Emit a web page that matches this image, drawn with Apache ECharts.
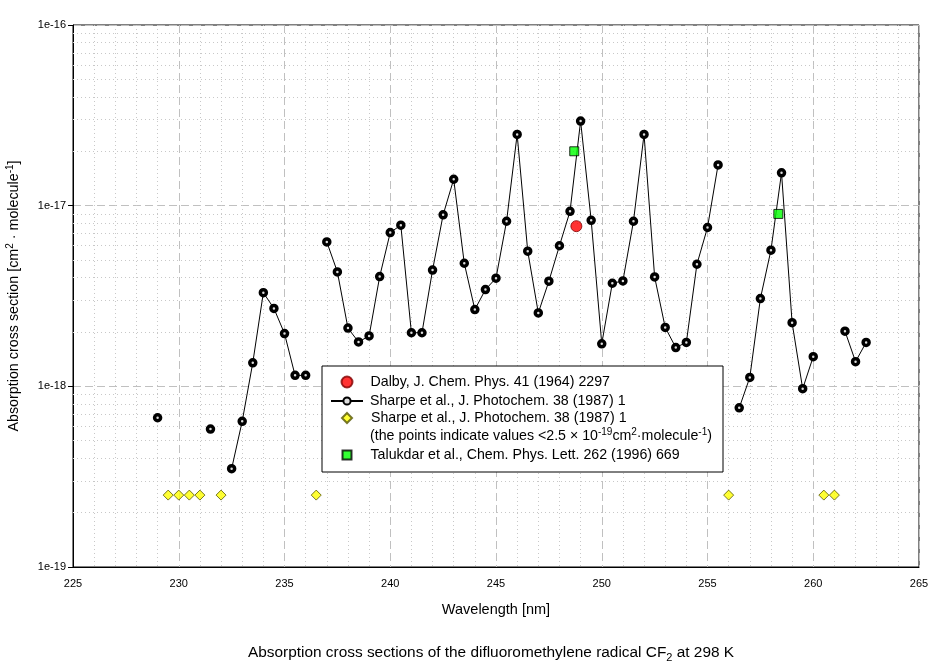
<!DOCTYPE html>
<html>
<head>
<meta charset="utf-8">
<script src="https://cdn.jsdelivr.net/npm/echarts@6/dist/echarts.min.js"></script>
<style>
  html, body { margin: 0; padding: 0; background: #fff; }
  #chart { width: 944px; height: 668px; }
</style>
</head>
<body>
<div id="chart"></div>
<script>
// wavelengths [nm] and cross sections [cm2 molecule-1]
// null = below 2.5e-19 (shown as yellow diamonds instead)
const sharpeWavelength = [
  229, 229.5, 230, 230.5, 231, 231.5, 232, 232.5, 233, 233.5, 234, 234.5, 235, 235.5, 236, 236.5,
  237, 237.5, 238, 238.5, 239, 239.5, 240, 240.5, 241, 241.5, 242, 242.5, 243, 243.5, 244, 244.5,
  245, 245.5, 246, 246.5, 247, 247.5, 248, 248.5, 249, 249.5, 250, 250.5, 251, 251.5, 252, 252.5,
  253, 253.5, 254, 254.5, 255, 255.5, 256, 256.5, 257, 257.5, 258, 258.5, 259, 259.5, 260, 260.5,
  261, 261.5, 262, 262.5
]
const sharpeSigma = [
  6.7e-19, null, null, null, null, 5.8e-19, null, 3.5e-19, 6.4e-19, 1.35e-18, 3.3e-18, 2.7e-18, 1.96e-18, 1.15e-18, 1.15e-18, null,
  6.3e-18, 4.3e-18, 2.1e-18, 1.76e-18, 1.9e-18, 4.05e-18, 7.1e-18, 7.8e-18, 1.98e-18, 1.98e-18, 4.4e-18, 8.9e-18, 1.4e-17, 4.8e-18, 2.66e-18, 3.43e-18,
  3.97e-18, 8.2e-18, 2.48e-17, 5.6e-18, 2.55e-18, 3.82e-18, 6.0e-18, 9.3e-18, 2.94e-17, 8.3e-18, 1.72e-18, 3.72e-18, 3.83e-18, 8.2e-18, 2.48e-17, 4.03e-18,
  2.12e-18, 1.64e-18, 1.75e-18, 4.74e-18, 7.57e-18, 1.68e-17, null, 7.6e-19, 1.12e-18, 3.06e-18, 5.67e-18, 1.52e-17, 2.25e-18, 9.7e-19, 1.46e-18, null,
  null, 2.02e-18, 1.37e-18, 1.75e-18
]
const sharpeLowWavelength = [229.5, 230, 230.5, 231, 232, 236.5, 256, 260.5, 261]
const sharpeLowSigma = [2.5e-19, 2.5e-19, 2.5e-19, 2.5e-19, 2.5e-19, 2.5e-19, 2.5e-19, 2.5e-19, 2.5e-19]
const dalbyWavelength = [248.8]
const dalbySigma = [7.7e-18]
const talukdarWavelength = [248.7, 258.35]
const talukdarSigma = [2.0e-17, 9.0e-18]

const yTickLabels = ['1e-19', '1e-18', '1e-17', '1e-16']
const minorMantissa = [2, 3, 4, 5, 6, 7, 8, 9]

// the log axis is drawn in units of 1e-19 so its tick rounding stays exact
const UNIT = 1e-19
const pairs = (xs, ys) => xs.map((x, i) => ys[i] == null ? [x, null] : [x, ys[i] / UNIT])

const minorLines = []
for (let d = 0; d < 3; d++) {
  minorMantissa.forEach(m => minorLines.push({ yAxis: m * Math.pow(10, d) }))
}

const FONT = 'Arial, "Liberation Sans", sans-serif'
const NAME_SHARPE = 'Sharpe et al., J. Photochem. 38 (1987) 1'
const NAME_LOW = 'Sharpe low'
const NAME_DALBY = 'Dalby, J. Chem. Phys. 41 (1964) 2297'
const NAME_TALUKDAR = 'Talukdar et al., Chem. Phys. Lett. 262 (1996) 669'

// one legend per row so each icon keeps its own size
function legendRow(name, top, size, width, shift, extra) {
  return Object.assign({
    orient: 'vertical',
    left: 346 - width / 2,
    top: top,
    padding: 0,
    itemWidth: width,
    itemHeight: size,
    selectedMode: false,
    z: 12,
    data: [name],
    textStyle: { fontFamily: FONT, fontSize: 14.2, color: '#000', padding: [0, 0, 0, shift] }
  }, extra || {})
}

const myChart = echarts.init(document.getElementById('chart'))
const option = {
  animation: false,
  backgroundColor: '#fff',
  textStyle: { fontFamily: FONT },
  grid: {
    left: 73, right: 25, top: 25, bottom: 101,
    outerBoundsMode: 'none',
    containLabel: false,
    show: true, borderColor: '#000', borderWidth: 1
  },
  title: {
    text: 'Absorption cross sections of the difluoromethylene radical CF{sub|2} at 298 K',
    left: 243, top: 638,
    textStyle: {
      fontFamily: FONT, fontSize: 15.4, fontWeight: 'normal', color: '#000', lineHeight: 20,
      rich: {
        sub: { fontFamily: FONT, fontSize: 11, verticalAlign: 'bottom', lineHeight: 20, color: '#000' }
      }
    }
  },
  xAxis: {
    type: 'value',
    min: 225, max: 265, interval: 5,
    name: 'Wavelength [nm]',
    nameLocation: 'middle',
    nameGap: 35,
    nameTextStyle: { fontFamily: FONT, fontSize: 14.5, color: '#000' },
    axisLine: { lineStyle: { color: '#000', width: 1 } },
    axisTick: { show: false },
    axisLabel: { fontFamily: FONT, fontSize: 11, color: '#000', margin: 11 },
    splitLine: { show: true, lineStyle: { color: '#c0c0c0', type: [8, 4], width: 1 } },
    minorTick: { show: false, splitNumber: 5 },
    minorSplitLine: { show: true, lineStyle: { color: '#c8c8c8', type: [1, 3], width: 1 } }
  },
  yAxis: {
    type: 'log',
    logBase: 10,
    min: 1, max: 1000,
    name: 'Absorption cross section [cm{sup|2} · molecule{sup|-1}]',
    nameLocation: 'middle',
    nameGap: 50,
    nameTextStyle: {
      fontFamily: FONT, fontSize: 14.3, color: '#000', lineHeight: 18,
      rich: {
        sup: { fontFamily: FONT, fontSize: 10, verticalAlign: 'top', lineHeight: 18, color: '#000' }
      }
    },
    axisLine: { show: true, lineStyle: { color: '#000', width: 1 } },
    axisTick: { show: true, length: 5, lineStyle: { color: '#000' } },
    axisLabel: {
      fontFamily: FONT, fontSize: 11, color: '#000', margin: 7,
      formatter: v => yTickLabels[Math.round(Math.log10(v))]
    },
    splitLine: { show: true, lineStyle: { color: '#c0c0c0', type: [8, 4], width: 1 } }
  },
  legend: [
    legendRow(NAME_DALBY, 375, 11, 11, 13),
    legendRow(NAME_SHARPE, 394, 9, 32, 2),
    legendRow(NAME_LOW, 411, 10, 10, 14, { formatter: () => NAME_SHARPE }),
    legendRow(NAME_TALUKDAR, 448, 9, 9, 14)
  ],
  graphic: [
    {
      type: 'rect', z: 10,
      shape: { x: 322, y: 366, width: 401, height: 106 },
      style: { fill: '#fff', stroke: '#000', lineWidth: 1 }
    },
    {
      type: 'text', z: 12, x: 370, y: 436,
      style: {
        text: '(the points indicate values <2.5 × 10{sup|-19}cm{sup|2}·molecule{sup|-1})',
        fontFamily: FONT, fontSize: 14.2, fill: '#000', verticalAlign: 'middle', lineHeight: 18,
        rich: {
          sup: { fontFamily: FONT, fontSize: 10, verticalAlign: 'top', lineHeight: 18, fill: '#000' }
        }
      }
    }
  ],
  series: [
    {
      name: NAME_LOW,
      type: 'scatter',
      data: pairs(sharpeLowWavelength, sharpeLowSigma),
      symbol: 'diamond',
      symbolSize: 10,
      itemStyle: { color: '#ffff00', borderColor: '#555500', borderWidth: 1 },
      markLine: {
        silent: true,
        symbol: 'none',
        z: 1,
        label: { show: false },
        lineStyle: { color: '#c8c8c8', type: [1, 3], width: 1 },
        emphasis: { disabled: true },
        data: minorLines
      }
    },
    {
      name: NAME_SHARPE,
      type: 'line',
      data: pairs(sharpeWavelength, sharpeSigma),
      connectNulls: false,
      showSymbol: true,
      showAllSymbol: true,
      symbol: 'circle',
      symbolSize: 6,
      lineStyle: { color: '#000', width: 1 },
      itemStyle: { color: '#ddd', borderColor: '#000', borderWidth: 3.5 },
      z: 3
    },
    {
      name: NAME_DALBY,
      type: 'scatter',
      data: pairs(dalbyWavelength, dalbySigma),
      symbol: 'circle',
      symbolSize: 11,
      itemStyle: { color: '#ff0000', borderColor: '#800000', borderWidth: 1 },
      z: 4
    },
    {
      name: NAME_TALUKDAR,
      type: 'scatter',
      data: pairs(talukdarWavelength, talukdarSigma),
      symbol: 'rect',
      symbolSize: 9,
      itemStyle: { color: '#00ff00', borderColor: '#000', borderWidth: 1 },
      z: 5
    }
  ]
}
if (option && typeof option === 'object') {
  myChart.setOption(option, true)
}
</script>
</body>
</html>
